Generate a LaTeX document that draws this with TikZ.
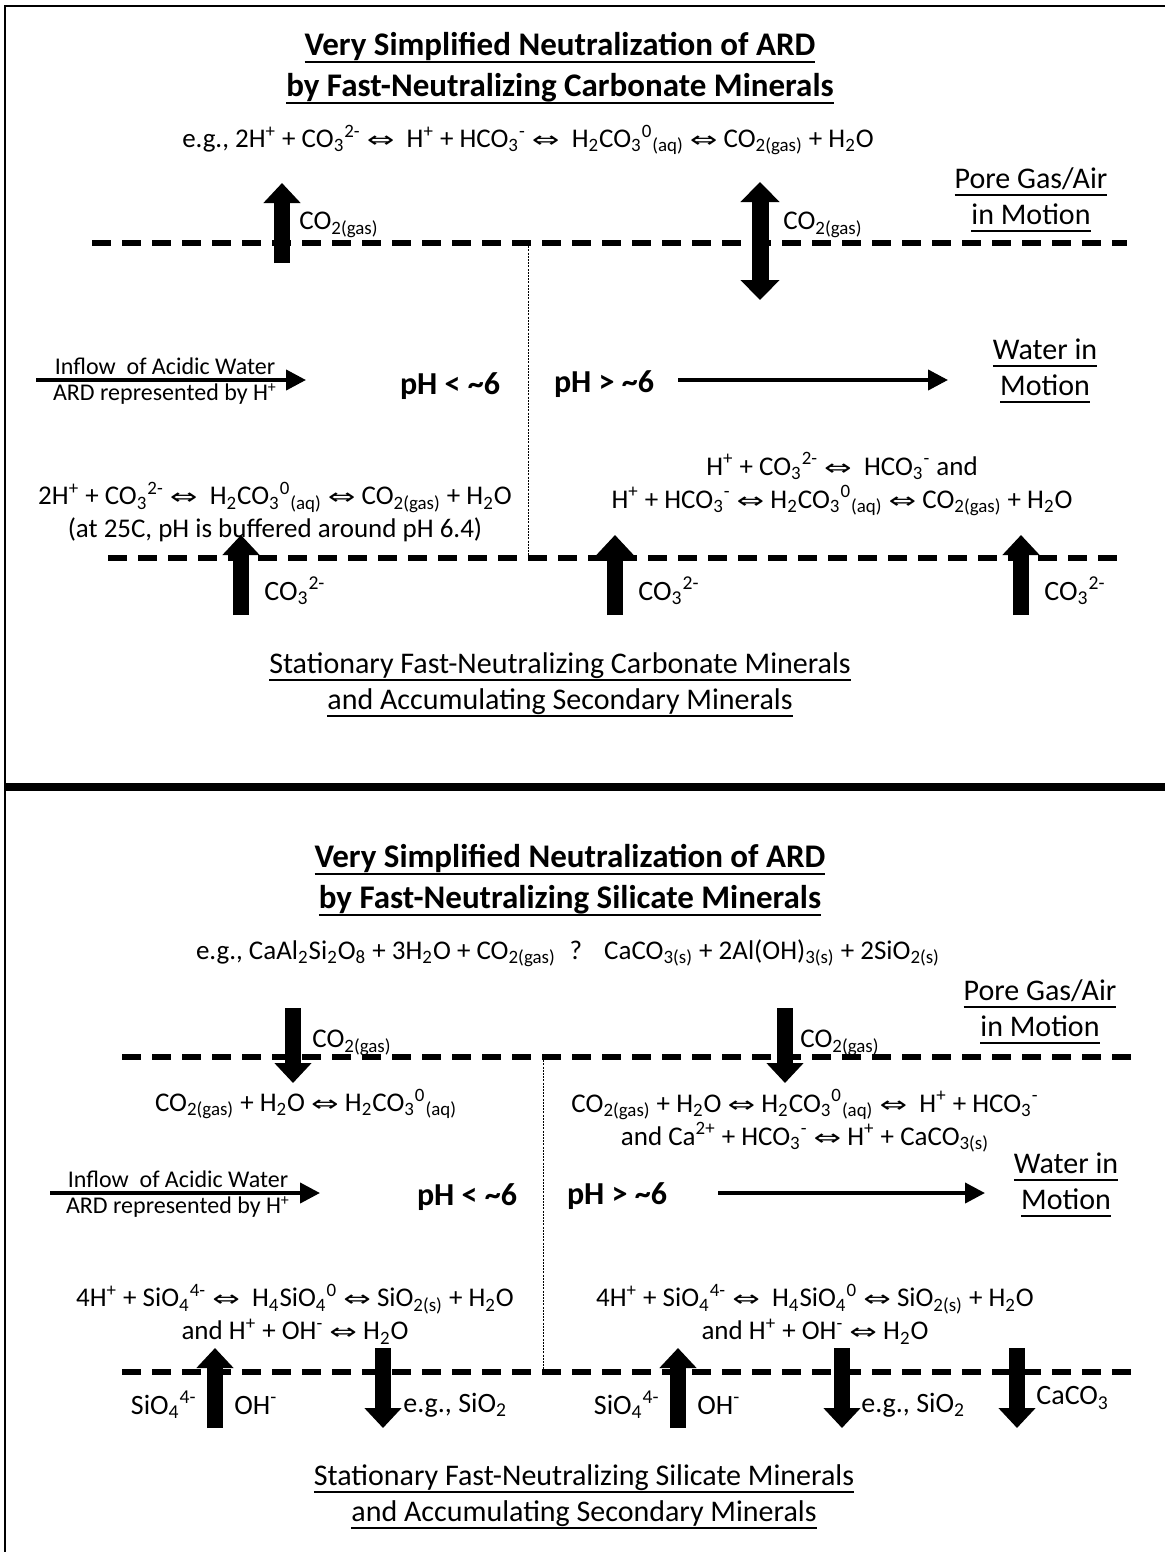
\documentclass[tikz,border=0pt]{standalone}
\usepackage{fontspec}
\setmainfont{Carlito}
\newfontfamily\arrowfont{DejaVu Sans}
\usepackage{tikz}
\usetikzlibrary{arrows.meta,positioning}

\newcommand{\chsub}[1]{\textsubscript{#1}}
\newcommand{\chsup}[1]{\textsuperscript{#1}}
\newcommand{\revarr}{\scalebox{1.5}[1]{\arrowfont\fontsize{11}{11}\selectfont ⇔}}
\newlength{\ulw}
\newcommand{\ulx}[1]{\settowidth{\ulw}{#1}\rlap{\rule[-3.6pt]{\ulw}{1pt}}#1}

\begin{document}
\begin{tikzpicture}[
  x=0.5pt, y=-0.5pt,
  title/.style={font=\fontsize{16.5}{20.5}\selectfont\bfseries, align=center, inner sep=0pt},
  eq/.style={font=\fontsize{13.5}{16.5}\selectfont, align=center, inner sep=1pt},
  lbl/.style={font=\fontsize{14}{16}\selectfont, inner sep=1pt},
  big/.style={font=\fontsize{15}{18}\selectfont, align=center, inner sep=0pt},
  small/.style={font=\fontsize{12}{13}\selectfont, inner sep=0pt},
  ph/.style={font=\fontsize{16}{18}\selectfont\bfseries, inner sep=0pt},
  gasline/.style={line width=3pt, dash pattern=on 9.5pt off 5.5pt},
  divide/.style={line width=0.4pt, dash pattern=on 1pt off 0.6pt},
  blk/.style={line width=8pt, -{Triangle[length=10pt,width=18pt]}},
  blkboth/.style={line width=8.5pt, {Triangle[length=10pt,width=19pt]}-{Triangle[length=10pt,width=19pt]}},
  flow/.style={line width=2pt, -{Triangle[length=10pt,width=10pt]}}
]
\useasboundingbox (0,0) rectangle (1165,1552);

% frame and separator
\coordinate (frameB) at (5,1552);
\coordinate (frameTL) at (5,6);
\coordinate (frameTR) at (1165,6);
\draw[line width=1pt] (frameB) -- (frameTL) -- (frameTR);
\coordinate (sepL) at (5,787);
\coordinate (sepR) at (1165,787);
\draw[line width=4pt] (sepL) -- (sepR);

% ---------- carbonate minerals ----------
\node[title] (carbTitle) at (560,68) {\ulx{Very Simplified Neutralization of ARD}\\\ulx{by Fast-Neutralizing Carbonate Minerals}};
\node[eq] (carbEq) at (528,140) {e.g., 2H\chsup{+} + CO\chsub{3}\chsup{2-} \revarr{}\ \ H\chsup{+} + HCO\chsub{3}\chsup{-} \revarr{}\ \ H\chsub{2}CO\chsub{3}\chsup{0}\chsub{(aq)} \revarr{} CO\chsub{2(gas)} + H\chsub{2}O};

\coordinate (carbGasL) at (92,243);
\coordinate (carbGasR) at (1127,243);
\draw[gasline] (carbGasL) -- (carbGasR);

\coordinate (co2UpS) at (282,263);
\coordinate (co2UpE) at (282,183);
\draw[blk] (co2UpS) -- (co2UpE);
\node[eq, anchor=west] (co2UpLbl) at (297,225) {CO\chsub{2(gas)}};

\coordinate (co2BothS) at (760,300);
\coordinate (co2BothE) at (760,182);
\draw[blkboth] (co2BothS) -- (co2BothE);
\node[eq, anchor=west] (co2BothLbl) at (781,225) {CO\chsub{2(gas)}};

\node[big] (carbPore) at (1031,200) {\ulx{Pore Gas/Air}\\\ulx{in Motion}};

\coordinate (carbDivT) at (528,243);
\coordinate (carbDivB) at (528,558);
\draw[divide] (carbDivT) -- (carbDivB);

\coordinate (carbInS) at (36,380);
\coordinate (carbInE) at (306,380);
\draw[flow] (carbInS) -- (carbInE);
\node[small] (carbInTop) at (165,366) {Inflow\ \ of Acidic Water};
\node[small] (carbInBot) at (165,394) {ARD represented by H\chsup{+}};

\node[ph] (carbLow) at (450,386) {pH < \textasciitilde6};
\node[ph] (carbHigh) at (604,384) {pH > \textasciitilde6};
\coordinate (carbOutS) at (678,380);
\coordinate (carbOutE) at (948,380);
\draw[flow] (carbOutS) -- (carbOutE);
\node[big] (carbWater) at (1045,371) {\ulx{Water in}\\\ulx{Motion}};

\node[eq] (carbEqL) at (275,512) {2H\chsup{+} + CO\chsub{3}\chsup{2-} \revarr{}\ \ H\chsub{2}CO\chsub{3}\chsup{0}\chsub{(aq)} \revarr{} CO\chsub{2(gas)} + H\chsub{2}O\\(at 25C, pH is buffered around pH 6.4)};
\node[eq] (carbEqR) at (842,484) {H\chsup{+} + CO\chsub{3}\chsup{2-} \revarr{}\ \ HCO\chsub{3}\chsup{-} and\\H\chsup{+} + HCO\chsub{3}\chsup{-} \revarr{} H\chsub{2}CO\chsub{3}\chsup{0}\chsub{(aq)} \revarr{} CO\chsub{2(gas)} + H\chsub{2}O};

\coordinate (carbMinL) at (108,558);
\coordinate (carbMinR) at (1127,558);
\draw[gasline] (carbMinL) -- (carbMinR);

\coordinate (co3aS) at (241,615);
\coordinate (co3aE) at (241,535);
\draw[blk] (co3aS) -- (co3aE);
\node[lbl, anchor=west] (co3aLbl) at (262,591) {CO\chsub{3}\chsup{2-}};
\coordinate (co3bS) at (615,615);
\coordinate (co3bE) at (615,535);
\draw[blk] (co3bS) -- (co3bE);
\node[lbl, anchor=west] (co3bLbl) at (636,591) {CO\chsub{3}\chsup{2-}};
\coordinate (co3cS) at (1021,615);
\coordinate (co3cE) at (1021,535);
\draw[blk] (co3cS) -- (co3cE);
\node[lbl, anchor=west] (co3cLbl) at (1042,591) {CO\chsub{3}\chsup{2-}};

\node[big] (carbBed) at (560,685) {\ulx{Stationary Fast-Neutralizing Carbonate Minerals}\\\ulx{and Accumulating Secondary Minerals}};

% ---------- silicate minerals ----------
\node[title] (silTitle) at (570,880) {\ulx{Very Simplified Neutralization of ARD}\\\ulx{by Fast-Neutralizing Silicate Minerals}};
\node[eq] (silEq) at (568,953) {e.g., CaAl\chsub{2}Si\chsub{2}O\chsub{8} + 3H\chsub{2}O + CO\chsub{2(gas)}\hspace{7pt}?\hspace{11pt}CaCO\chsub{3(s)} + 2Al(OH)\chsub{3(s)} + 2SiO\chsub{2(s)}};

\coordinate (silGasL) at (122,1057);
\coordinate (silGasR) at (1140,1057);
\draw[gasline] (silGasL) -- (silGasR);

\coordinate (co2DnaS) at (293,1008);
\coordinate (co2DnaE) at (293,1083);
\draw[blk] (co2DnaS) -- (co2DnaE);
\node[eq, anchor=west] (co2DnaLbl) at (310,1043) {CO\chsub{2(gas)}};
\coordinate (co2DnbS) at (785,1008);
\coordinate (co2DnbE) at (785,1083);
\draw[blk] (co2DnbS) -- (co2DnbE);
\node[eq, anchor=west] (co2DnbLbl) at (798,1043) {CO\chsub{2(gas)}};

\node[big] (silPore) at (1040,1012) {\ulx{Pore Gas/Air}\\\ulx{in Motion}};

\coordinate (silDivT) at (543,1057);
\coordinate (silDivB) at (543,1372);
\draw[divide] (silDivT) -- (silDivB);

\node[eq] (silEqTL) at (306,1104) {CO\chsub{2(gas)} + H\chsub{2}O \revarr{} H\chsub{2}CO\chsub{3}\chsup{0}\chsub{(aq)}};
\node[eq] (silEqTR) at (805,1121) {CO\chsub{2(gas)} + H\chsub{2}O \revarr{} H\chsub{2}CO\chsub{3}\chsup{0}\chsub{(aq)} \revarr{}\ \ H\chsup{+} + HCO\chsub{3}\chsup{-}\\and Ca\chsup{2+} + HCO\chsub{3}\chsup{-} \revarr{} H\chsup{+} + CaCO\chsub{3(s)}};

\coordinate (silInS) at (50,1193);
\coordinate (silInE) at (320,1193);
\draw[flow] (silInS) -- (silInE);
\node[small] (silInTop) at (178,1179) {Inflow\ \ of Acidic Water};
\node[small] (silInBot) at (178,1207) {ARD represented by H\chsup{+}};

\node[ph] (silLow) at (467,1197) {pH < \textasciitilde6};
\node[ph] (silHigh) at (617,1196) {pH > \textasciitilde6};
\coordinate (silOutS) at (718,1193);
\coordinate (silOutE) at (985,1193);
\draw[flow] (silOutS) -- (silOutE);
\node[big] (silWater) at (1066,1185) {\ulx{Water in}\\\ulx{Motion}};

\node[eq] (silEqBL) at (295,1314) {4H\chsup{+} + SiO\chsub{4}\chsup{4-} \revarr{}\ \ H\chsub{4}SiO\chsub{4}\chsup{0} \revarr{} SiO\chsub{2(s)} + H\chsub{2}O\\and H\chsup{+} + OH\chsup{-} \revarr{} H\chsub{2}O};
\node[eq] (silEqBR) at (815,1314) {4H\chsup{+} + SiO\chsub{4}\chsup{4-} \revarr{}\ \ H\chsub{4}SiO\chsub{4}\chsup{0} \revarr{} SiO\chsub{2(s)} + H\chsub{2}O\\and H\chsup{+} + OH\chsup{-} \revarr{} H\chsub{2}O};

\coordinate (silMinL) at (122,1372);
\coordinate (silMinR) at (1140,1372);
\draw[gasline] (silMinL) -- (silMinR);

\coordinate (sioaS) at (215,1428);
\coordinate (sioaE) at (215,1348);
\draw[blk] (sioaS) -- (sioaE);
\node[lbl, anchor=east] (sioaLbl) at (199,1405) {SiO\chsub{4}\chsup{4-}};
\node[lbl, anchor=west] (ohaLbl) at (232,1405) {OH\chsup{-}};
\coordinate (sedaS) at (383,1348);
\coordinate (sedaE) at (383,1428);
\draw[blk] (sedaS) -- (sedaE);
\node[lbl, anchor=west] (sedaLbl) at (401,1405) {e.g., SiO\chsub{2}};

\coordinate (siobS) at (678,1428);
\coordinate (siobE) at (678,1348);
\draw[blk] (siobS) -- (siobE);
\node[lbl, anchor=east] (siobLbl) at (662,1405) {SiO\chsub{4}\chsup{4-}};
\node[lbl, anchor=west] (ohbLbl) at (695,1405) {OH\chsup{-}};
\coordinate (sedbS) at (842,1348);
\coordinate (sedbE) at (842,1428);
\draw[blk] (sedbS) -- (sedbE);
\node[lbl, anchor=west] (sedbLbl) at (859,1405) {e.g., SiO\chsub{2}};
\coordinate (calcS) at (1017,1348);
\coordinate (calcE) at (1017,1428);
\draw[blk] (calcS) -- (calcE);
\node[lbl, anchor=west] (calcLbl) at (1034,1398) {CaCO\chsub{3}};

\node[big] (silBed) at (584,1497) {\ulx{Stationary Fast-Neutralizing Silicate Minerals}\\\ulx{and Accumulating Secondary Minerals}};
\end{tikzpicture}
\end{document}
